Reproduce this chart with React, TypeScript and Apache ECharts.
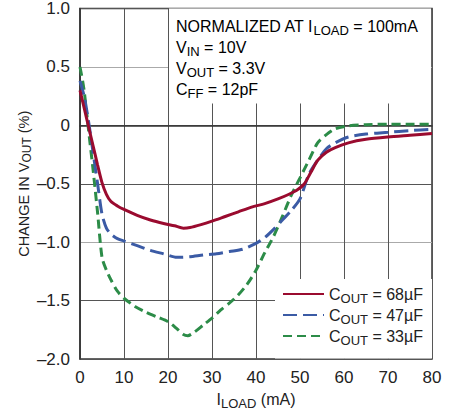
import React, { useEffect, useRef } from "react";
import * as echarts from "echarts";

const FONT = "'Liberation Sans Narrow', 'Liberation Sans', Arial, sans-serif";

const xTicks = [0, 10, 20, 30, 40, 50, 60, 70, 80];
const yTicks = [-2.0, -1.5, -1.0, -0.5, 0, 0.5, 1.0];

const seriesNames = ["68µF", "47µF", "33µF"];
const seriesColors = ["#9a0b2f", "#3b5ba5", "#2c8c48"];

const redX = [0, 1, 2, 3, 4, 5, 6, 7, 8.5, 10, 13, 16, 19, 21.5, 23.5, 25, 27.5, 30, 33, 36, 39, 42, 45, 47.5, 49.5, 51, 52.5, 54, 56, 58, 61, 65, 70, 75, 80];
const redY = [0.30, 0.14, -0.02, -0.18, -0.34, -0.49, -0.59, -0.65, -0.69, -0.72, -0.77, -0.81, -0.84, -0.86, -0.88, -0.875, -0.85, -0.82, -0.78, -0.74, -0.70, -0.67, -0.63, -0.59, -0.55, -0.50, -0.40, -0.30, -0.23, -0.19, -0.15, -0.12, -0.10, -0.085, -0.07];

const blueX = [0, 1, 2, 3, 4, 5, 6, 7, 8.5, 10, 13, 16, 19, 22, 25, 28, 31, 34, 37, 40, 42, 44, 46, 48, 50, 52, 54, 56, 58, 61, 65, 70, 75, 80];
const blueY = [0.38, 0.24, 0.02, -0.24, -0.50, -0.76, -0.88, -0.93, -0.97, -0.99, -1.03, -1.07, -1.10, -1.13, -1.125, -1.11, -1.10, -1.08, -1.06, -1.01, -0.96, -0.89, -0.81, -0.73, -0.63, -0.42, -0.30, -0.20, -0.15, -0.10, -0.075, -0.06, -0.045, -0.035];

const greenX = [0, 0.6, 1, 2, 3, 4, 5, 6, 7, 8.5, 10, 12.5, 15, 17.5, 20, 22, 23.5, 24.5, 26, 28, 30, 32, 34, 36, 38, 40, 42, 44, 46, 48, 50, 52, 54, 56, 58, 61, 65, 70, 75, 80];
const greenY = [0.50, 0.38, 0.28, -0.06, -0.39, -0.75, -1.13, -1.24, -1.32, -1.42, -1.48, -1.55, -1.60, -1.64, -1.68, -1.74, -1.79, -1.80, -1.77, -1.71, -1.65, -1.58, -1.52, -1.45, -1.36, -1.24, -1.09, -0.95, -0.78, -0.60, -0.45, -0.30, -0.15, -0.08, -0.03, -0.005, 0.005, 0.01, 0.01, 0.01];

const pair = (xs: number[], ys: number[]) => xs.map((x, i) => [x, ys[i]]);

const rich = {
  n: { fontSize: 16, lineHeight: 21, fontFamily: FONT, color: "#222" },
  s: { fontSize: 13, lineHeight: 11, verticalAlign: "bottom", fontFamily: FONT, color: "#222" },
};
const richY = {
  n: { fontSize: 14.5, lineHeight: 19, fontFamily: FONT, color: "#222" },
  s: { fontSize: 12, lineHeight: 10, verticalAlign: "bottom", fontFamily: FONT, color: "#222" },
};

export default function App() {
  const ref = useRef<HTMLDivElement>(null);
  useEffect(() => {
    if (!ref.current) return;
    const chart = echarts.init(ref.current, null, { renderer: "svg" });
    const data = [pair(redX, redY), pair(blueX, blueY), pair(greenX, greenY)];
    const dashes: any[] = ["solid", [14, 6], [9, 5]];
    chart.setOption({
      animation: false,
      backgroundColor: "#fff",
      textStyle: { fontFamily: FONT },
      grid: {
        left: 80, right: 28, top: 7.5, bottom: 58,
        show: true, borderColor: "#333", borderWidth: 1.5, backgroundColor: "transparent",
      },
      xAxis: {
        type: "value", min: xTicks[0], max: xTicks[xTicks.length - 1], interval: 10,
        name: "{n|I}{s|LOAD}{n| (mA)}",
        nameLocation: "middle", nameGap: 30,
        nameMoveOverlap: false,
        nameTextStyle: { rich },
        axisLine: { show: true, lineStyle: { color: "#333", width: 1.5 } },
        axisTick: { show: false },
        axisLabel: { fontSize: 17, color: "#222", margin: 10, fontFamily: FONT },
        splitLine: { show: true, lineStyle: { color: "#555", width: 1 } },
      },
      yAxis: {
        type: "value", min: yTicks[0], max: yTicks[yTicks.length - 1], interval: 0.5,
        name: "{n|CHANGE IN V}{s|OUT}{n| (%)}",
        nameLocation: "middle", nameGap: 47, nameRotate: 90,
        nameMoveOverlap: false,
        nameTextStyle: { rich: richY },
        axisLine: { show: true, lineStyle: { color: "#333", width: 1.5 } },
        axisTick: { show: false },
        axisLabel: {
          fontSize: 17, color: "#222", margin: 10, fontFamily: FONT,
          formatter: (v: number) => (Math.abs(v) < 1e-9 ? "0" : (v < 0 ? "–" : "") + Math.abs(v).toFixed(1)),
        },
        splitLine: { show: true, lineStyle: { color: ["#555", "#555", "#aaa"], width: 1 } },
      },
      legend: {
        orient: "vertical", left: 275, top: 279,
        backgroundColor: "#fff",
        padding: [7, 9, 12, 7],
        itemWidth: 41, itemHeight: 16, itemGap: 2.5,
        itemStyle: { opacity: 0 },
        data: seriesNames.map((n) => "COUT = " + n),
        formatter: (name: string) => "{n|C}{s|OUT}{n| = " + name.replace("COUT = ", "") + "}",
        textStyle: { rich },
      },
      graphic: [
        {
          type: "rect", z: 5, shape: { x: 169, y: 8.5, width: 262, height: 95 },
          style: { fill: "#fff" },
        },
        {
          type: "text", z: 6, x: 176, y: 15.5,
          style: {
            text: [
              "{n|NORMALIZED AT I}{s|LOAD}{n| = 100mA}",
              "{n|V}{s|IN}{n| = 10V}",
              "{n|V}{s|OUT}{n| = 3.3V}",
              "{n|C}{s|FF}{n| = 12pF}",
            ].join("\n"),
            rich,
          },
        },
      ],
      series: data.map((d, i) => ({
        type: "line",
        name: "COUT = " + seriesNames[i],
        data: d,
        smooth: 0.25,
        showSymbol: false,
        symbol: "none",
        z: 3 - i + 2,
        lineStyle: { color: seriesColors[i], width: 3, type: dashes[i] },
        itemStyle: { color: seriesColors[i] },
      })),
    });
    return () => chart.dispose();
  }, []);
  return <div ref={ref} style={{ position: "fixed", left: 0, top: 0, width: 460, height: 417 }} />;
}
